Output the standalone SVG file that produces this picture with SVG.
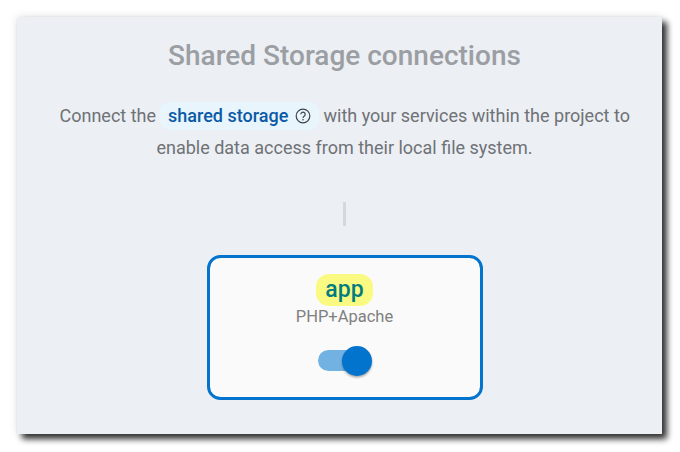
<svg xmlns="http://www.w3.org/2000/svg" width="680" height="452" viewBox="0 0 680 452">
<style>
text{font-family:Roboto,"Liberation Sans",sans-serif}
.body{font-size:18px;fill:#6f7276}
</style>
<defs>
<filter id="ps" x="-5%" y="-5%" width="112%" height="115%"><feGaussianBlur stdDeviation="3.200"/></filter>
<filter id="pa" x="-5%" y="-5%" width="110%" height="110%"><feGaussianBlur stdDeviation="4"/></filter>
<filter id="ks" x="-40%" y="-40%" width="180%" height="180%"><feGaussianBlur stdDeviation="1.3"/></filter>
</defs>
<rect width="680" height="452" fill="#fff"/>
<g id="panel">
<rect x="17" y="17" width="645" height="417" fill="#000" opacity=".12" filter="url(#pa)"/>
<rect x="22" y="22" width="645" height="417" fill="#000" opacity=".8" filter="url(#ps)"/>
<path d="M21 17H662V434H17V21Q17 17 21 17Z" fill="#eceff4"/>
<text x="344.500" y="65" text-anchor="middle" font-size="28" font-weight="500" fill="#9b9ea2">Shared Storage connections</text>
<text x="59.500" y="122" class="body">Connect the</text>
<text x="323.500" y="122" class="body">with your services within the project to</text>
<text x="344.500" y="154" text-anchor="middle" class="body">enable data access from their local file system.</text>
<rect x="343" y="202" width="3" height="24" fill="#d5d9df"/>
</g>
<g id="shared-storage">
<rect x="160" y="102" width="159" height="28" rx="9" fill="#e9f5fd"/>
<text x="168" y="122" font-size="18" font-weight="500" fill="#0b5aa6">shared storage</text>
<circle cx="303" cy="116" r="6.800" fill="none" stroke="#3f4348" stroke-width="1.200"/>
<path d="M300.800 114.300a2.200 2.200 0 1 1 3.500 1.800c-.9.600-1.300 1-1.300 2" fill="none" stroke="#3f4348" stroke-width="1.200"/>
<circle cx="303" cy="119.700" r=".8" fill="#3f4348"/>
</g>
<g id="app">
<rect x="208.500" y="256.500" width="273" height="142" rx="12" fill="#fafafa" stroke="#0274cd" stroke-width="3"/>
<rect x="316" y="274" width="57" height="32" rx="13" fill="#fafa82"/>
<text x="344.500" y="297" text-anchor="middle" font-size="23" font-weight="500" fill="#027c7e">app</text>
<text x="344.500" y="322" text-anchor="middle" font-size="16.500" fill="#808080">PHP+Apache</text>
</g>
<g id="toggle">
<rect x="318" y="350" width="42" height="21" rx="10.500" fill="#72b2e3"/>
<circle cx="357" cy="362.500" r="15" fill="#000" opacity=".35" filter="url(#ks)"/>
<circle cx="357" cy="361" r="15" fill="#0274cd"/>
</g>
</svg>
